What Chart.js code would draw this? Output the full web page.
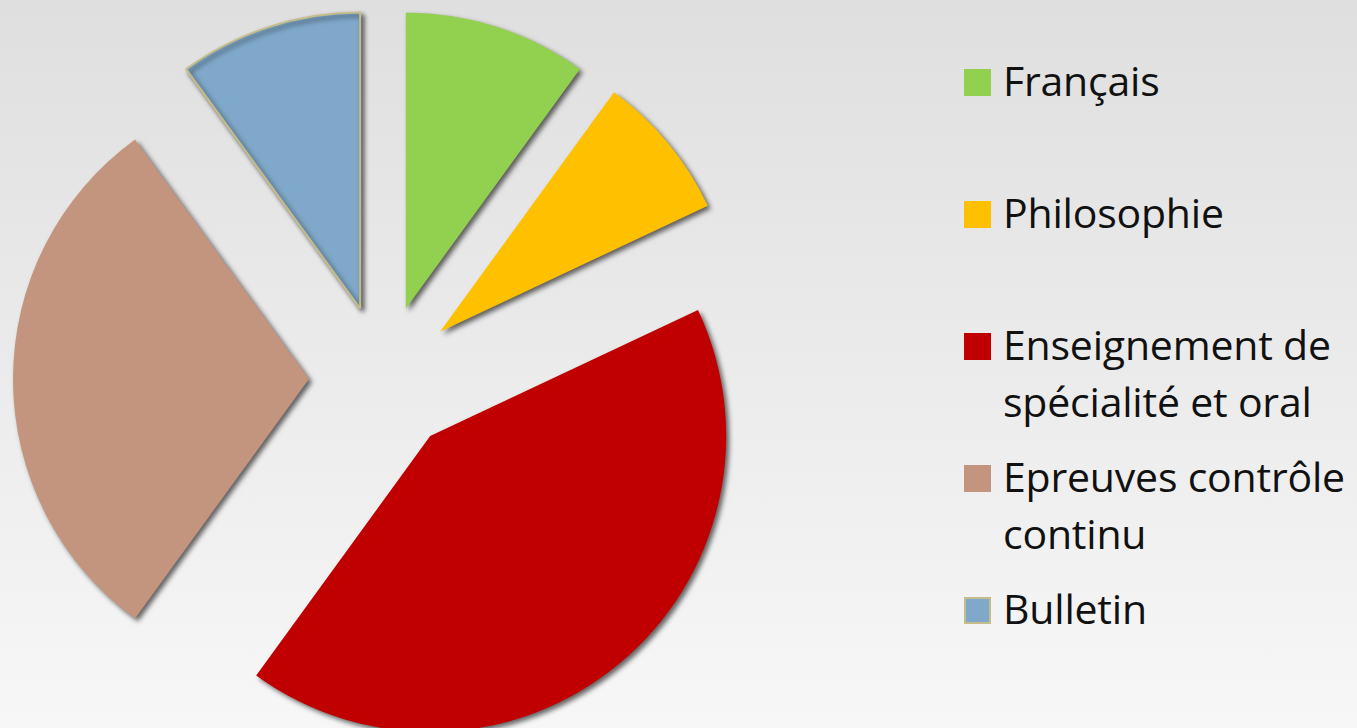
<!DOCTYPE html>
<html>
<head>
<meta charset="utf-8">
<script src="https://cdn.jsdelivr.net/npm/chart.js@4"></script>
<style>
  html, body { margin: 0; padding: 0; }
  body {
    width: 1357px; height: 728px; overflow: hidden; position: relative;
    background: linear-gradient(to bottom, #dfdfdf 0%, #ebebeb 50%, #f7f7f7 100%);
    font-family: "Open Sans", sans-serif;
  }
  #pieChart { position: absolute; left: 0; top: 0; }
  #legend { position: absolute; left: 964px; top: 0; }
  .item { position: absolute; left: 0; white-space: nowrap; }
  .box { position: absolute; left: 0; top: 17px; width: 27px; height: 27px; box-sizing: border-box; }
  .label { position: absolute; left: 39px; top: 0; font-size: 41px; line-height: 57px; color: #111; letter-spacing: -0.2px; }
</style>
</head>
<body>
<canvas id="pieChart" width="766" height="728"></canvas>
<div id="legend"></div>
<script>
const categories = ['Français', 'Philosophie', 'Enseignement de spécialité et oral', 'Epreuves contrôle continu', 'Bulletin'];
const legendLines = [['Français'], ['Philosophie'], ['Enseignement de', 'spécialité et oral'], ['Epreuves contrôle', 'continu'], ['Bulletin']];
const weights = [10, 8, 42, 30, 10];
const colors = ['#92d050', '#ffc000', '#c00000', '#c3957f', '#7fa8ca'];
const borderColors = ['#92d050', '#ffc000', '#c00000', '#c3957f', '#c4bc8a'];
const borderWidths = [0, 0, 0, 0, 2];

const explodeDistance = 74;

// push every slice out from the centre along its middle angle
const explodePlugin = {
  id: 'explode',
  afterDatasetUpdate(chart, args) {
    args.meta.data.forEach(arc => {
      const mid = (arc.startAngle + arc.endAngle) / 2;
      arc.x += Math.cos(mid) * explodeDistance;
      arc.y += Math.sin(mid) * explodeDistance;
    });
  }
};

const shadowPlugin = {
  id: 'sliceShadow',
  beforeDatasetDraw(chart) {
    const ctx = chart.ctx;
    ctx.save();
    ctx.shadowColor = 'rgba(0,0,0,0.6)';
    ctx.shadowBlur = 5;
    ctx.shadowOffsetX = 3;
    ctx.shadowOffsetY = 3;
  },
  afterDatasetDraw(chart) {
    chart.ctx.restore();
  }
};

new Chart(document.getElementById('pieChart').getContext('2d'), {
  type: 'pie',
  data: {
    labels: categories,
    datasets: [{
      data: weights,
      backgroundColor: colors,
      borderColor: borderColors,
      borderWidth: borderWidths,
      radius: 296,
      clip: false
    }]
  },
  options: {
    responsive: false,
    animation: false,
    events: [],
    devicePixelRatio: 1,
    layout: { padding: { top: 30, bottom: 0, left: 0, right: 0 } },
    plugins: {
      legend: { display: false },
      tooltip: { enabled: false }
    }
  },
  plugins: [explodePlugin, shadowPlugin]
});

// legend on the right, same order as the slices
const legend = document.getElementById('legend');
const itemTops = [52, 184, 316, 448, 580];
categories.forEach((cat, i) => {
  const item = document.createElement('div');
  item.className = 'item';
  item.style.top = itemTops[i] + 'px';
  const box = document.createElement('div');
  box.className = 'box';
  box.style.background = colors[i];
  if (borderWidths[i]) box.style.border = '2px solid ' + borderColors[i];
  const label = document.createElement('div');
  label.className = 'label';
  label.innerHTML = legendLines[i].join('<br>');
  item.appendChild(box);
  item.appendChild(label);
  legend.appendChild(item);
});
</script>
</body>
</html>
